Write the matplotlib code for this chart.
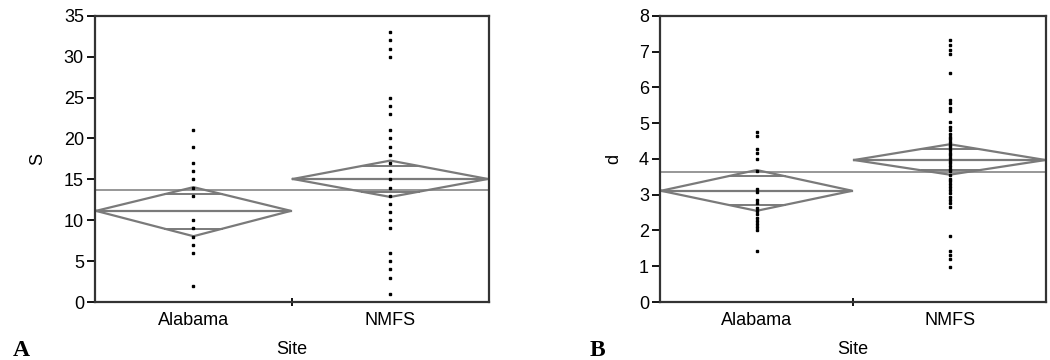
import numpy as np
import matplotlib
matplotlib.use("Agg")
import matplotlib.pyplot as plt

plt.rcParams['font.family'] = ['Liberation Sans', 'DejaVu Sans']

sites = ["Alabama", "NMFS"]

# panel A: species richness S
s_alabama = [21, 19, 17, 16, 15, 14, 13, 10, 9, 8, 7, 6, 2]
s_nmfs = [33, 32, 31, 30, 25, 24, 23, 21, 20, 19, 18, 17, 16, 15, 14, 13,
          12, 11, 10, 9, 6, 5, 4, 3, 1]
s_mean = [11.15, 15.05]
s_upper = [14.05, 17.3]
s_lower = [8.05, 12.85]
s_grand = 13.65

# panel B: Margalef richness d
d_alabama = [4.76, 4.64, 4.27, 4.18, 3.99, 3.67, 3.17, 3.08, 2.84, 2.76,
             2.62, 2.55, 2.45, 2.35, 2.27, 2.18, 2.10, 2.02, 1.43]
d_nmfs = [7.33, 7.19, 7.05, 6.92, 6.40, 5.65, 5.55, 5.42, 5.33, 5.04, 4.90,
          4.82, 4.70, 4.62, 4.55, 4.48, 4.40, 4.33, 4.25, 4.18, 4.10, 4.02,
          3.95, 3.88, 3.80, 3.72, 3.65, 3.55, 3.45, 3.38, 3.30, 3.22, 3.12,
          3.05, 2.95, 2.86, 2.76, 2.65, 1.85, 1.43, 1.31, 1.19, 0.99]
d_mean = [3.11, 3.97]
d_upper = [3.69, 4.41]
d_lower = [2.55, 3.56]
d_grand = 3.64

GRAY = "#7a7a7a"


def diamond_panel(ax, groups, means, uppers, lowers, grand, ylim, yticks, ylabel):
    for i, vals in enumerate(groups):
        c = i + 0.5
        x0, x1 = i + 0.005, i + 0.995
        m, up, lo = means[i], uppers[i], lowers[i]
        ax.plot([x0, c, x1, c, x0], [m, up, m, lo, m], color=GRAY, lw=1.6,
                solid_joinstyle="miter", zorder=2)
        ax.plot([x0, x1], [m, m], color=GRAY, lw=1.6, zorder=2)
        # overlap marks
        hw = 0.495 * (1 - 1 / np.sqrt(2))
        for ov in (m + (up - m) / np.sqrt(2), m - (m - lo) / np.sqrt(2)):
            ax.plot([c - hw, c + hw], [ov, ov], color=GRAY, lw=1.4, zorder=2)
        ax.plot([c] * len(vals), vals, ls="none", marker="s", ms=2.0,
                color="black", zorder=3)
    ax.axhline(grand, color=GRAY, lw=1.1, zorder=1)
    ax.set_xlim(0, 2)
    ax.set_ylim(*ylim)
    ax.set_yticks(yticks)
    ax.set_xticks([0.5, 1.5])
    ax.set_xticklabels(sites)
    ax.set_xticks([1], minor=True)
    ax.tick_params(axis="x", which="major", length=0, labelsize=13, pad=7)
    ax.tick_params(axis="x", which="minor", length=6, width=1.3, direction="inout")
    ax.tick_params(axis="y", length=6, width=1.3, labelsize=13, pad=2)
    for sp in ax.spines.values():
        sp.set_linewidth(1.6)
        sp.set_color("#333333")
    ax.set_ylabel(ylabel, fontsize=13)
    ax.set_xlabel("Site", fontsize=13)


fig = plt.figure(figsize=(10.5, 3.6), dpi=100)
axA = fig.add_axes([0.0905, 0.161, 0.375, 0.795])
axB = fig.add_axes([0.6286, 0.161, 0.368, 0.795])

diamond_panel(axA, [s_alabama, s_nmfs], s_mean, s_upper, s_lower, s_grand,
              (0, 35), range(0, 36, 5), "S")
diamond_panel(axB, [d_alabama, d_nmfs], d_mean, d_upper, d_lower, d_grand,
              (0, 8), range(0, 9), "d")

axA.yaxis.set_label_coords(-0.125, 0.5)
axB.yaxis.set_label_coords(-0.098, 0.5)
axA.xaxis.set_label_coords(0.5, -0.135)
axB.xaxis.set_label_coords(0.5, -0.135)

fig.text(0.012, 0.01, "A", fontsize=17, fontweight="bold", family="Liberation Serif")
fig.text(0.562, 0.01, "B", fontsize=17, fontweight="bold", family="Liberation Serif")

fig.savefig("out.png", dpi=100)
